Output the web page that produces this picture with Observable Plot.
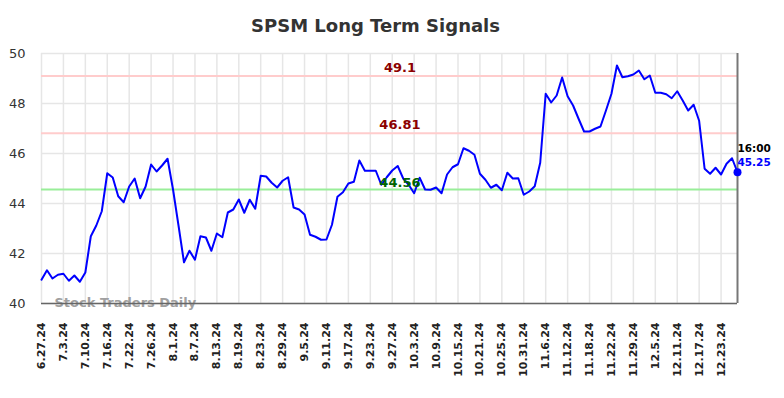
<!DOCTYPE html>
<html>
<head>
<meta charset="utf-8">
<script src="https://cdn.jsdelivr.net/npm/d3@7"></script>
<script src="https://cdn.jsdelivr.net/npm/@observablehq/plot@0.6"></script>
<style>
  html, body { margin: 0; padding: 0; background: #fff; }
  #chart svg { display: block; }
</style>
</head>
<body>
<div id="chart"></div>
<script>
const title = "SPSM Long Term Signals";
const watermark = "Stock Traders Daily";
const tickLabels = ["6.27.24","7.3.24","7.10.24","7.16.24","7.22.24","7.26.24","8.1.24","8.7.24",
  "8.13.24","8.19.24","8.23.24","8.29.24","9.5.24","9.11.24","9.17.24","9.23.24","9.27.24",
  "10.3.24","10.9.24","10.15.24","10.21.24","10.25.24","10.31.24","11.6.24","11.12.24",
  "11.18.24","11.22.24","11.29.24","12.5.24","12.11.24","12.17.24","12.23.24"];
const tickStep = 4;
const values = [
  40.95, 41.33, 41.00, 41.15, 41.19, 40.91, 41.12, 40.87, 41.24, 42.69,
  43.12, 43.69, 45.21, 45.04, 44.29, 44.05, 44.68, 45.00, 44.21, 44.68,
  45.56, 45.28, 45.52, 45.79, 44.56, 43.12, 41.65, 42.11, 41.75, 42.69,
  42.64, 42.11, 42.80, 42.65, 43.64, 43.76, 44.16, 43.63, 44.15, 43.79,
  45.11, 45.08, 44.83, 44.64, 44.91, 45.05, 43.84, 43.76, 43.56, 42.75,
  42.67, 42.55, 42.56, 43.15, 44.27, 44.45, 44.80, 44.87, 45.72, 45.31,
  45.31, 45.31, 44.75, 45.05, 45.32, 45.50, 45.00, 44.75, 44.41, 45.03,
  44.56, 44.55, 44.64, 44.41, 45.16, 45.45, 45.57, 46.21, 46.11, 45.95,
  45.19, 44.95, 44.63, 44.75, 44.53, 45.23, 45.00, 45.01, 44.35, 44.48,
  44.69, 45.63, 48.39, 48.04, 48.32, 49.04, 48.29, 47.92, 47.39, 46.88,
  46.88, 46.99, 47.08, 47.72, 48.39, 49.52, 49.05, 49.09, 49.16, 49.32,
  48.97, 49.12, 48.43, 48.43, 48.37, 48.21, 48.49, 48.12, 47.72, 47.95,
  47.31, 45.39, 45.19, 45.43, 45.16, 45.59, 45.81, 45.25
];
const resistanceLevels = [49.1, 46.81];
const supportLevels = [44.56];
const levelLabelIndex = 65.4;
const yTicks = [40, 42, 44, 46, 48, 50];
const lastTime = "16:00";

const points = values.map((v, i) => ({i, v}));
const last = points[points.length - 1];
const tickIdx = tickLabels.map((_, k) => k * tickStep);
const font = "DejaVu Sans";

const chart = Plot.plot({
  width: 784,
  height: 398,
  marginLeft: 41,
  marginRight: 47,
  marginTop: 53,
  marginBottom: 95,
  style: {fontFamily: font, background: "#fff", overflow: "visible"},
  x: {domain: [0, values.length - 1], axis: null},
  y: {domain: [40, 50], axis: null},
  marks: [
    Plot.ruleX(tickIdx, {stroke: "#e6e6e6", strokeWidth: 1.5}),
    Plot.ruleY(yTicks, {stroke: "#e6e6e6", strokeWidth: 1.5}),
    Plot.ruleY(resistanceLevels, {stroke: "#ffcccc", strokeWidth: 2}),
    Plot.ruleY(supportLevels, {stroke: "#99ee99", strokeWidth: 2}),
    Plot.text([watermark], {frameAnchor: "bottom-left", lineAnchor: "middle", dx: 13, dy: -1, fontSize: 13, fontWeight: "bold", fill: "#a0a0a0", textAnchor: "start"}),
    Plot.ruleY([40], {stroke: "#666", strokeWidth: 1.5}),
    Plot.ruleX([values.length - 1], {stroke: "#777", strokeWidth: 2}),
    Plot.line(points, {x: "i", y: "v", stroke: "#0000ff", strokeWidth: 2}),
    Plot.text(resistanceLevels, {x: () => levelLabelIndex, y: d => d, text: d => String(d), dy: -8, fontSize: 13, fontWeight: "bold", fill: "#8b0000"}),
    Plot.text(supportLevels, {x: () => levelLabelIndex, y: d => d, text: d => String(d), dy: -7, fontSize: 13, fontWeight: "bold", fill: "#006400"}),
    Plot.dot([last], {x: "i", y: "v", r: 4, fill: "#0000ff"}),
    Plot.text([last], {x: "i", y: "v", text: () => lastTime, textAnchor: "start", dy: -24, fontSize: 10.5, fontWeight: "bold", fill: "#000"}),
    Plot.text([last], {x: "i", y: "v", text: d => d.v.toFixed(2), textAnchor: "start", dy: -10, fontSize: 10.5, fontWeight: "bold", fill: "#0000ff"}),
    Plot.text(yTicks, {frameAnchor: "left", lineAnchor: "middle", y: d => d, text: d => String(d), textAnchor: "end", dx: -16, fontSize: 13, fill: "#333"}),
    Plot.text(tickIdx, {x: d => d, frameAnchor: "bottom", lineAnchor: "middle", text: (d, k) => tickLabels[k], rotate: -90, textAnchor: "end", dy: 19, fontSize: 11, fontWeight: "bold", fill: "#222"}),
    Plot.text([title], {frameAnchor: "top", lineAnchor: "middle", dx: -14, dy: -27, fontSize: 18, fontWeight: "bold", fill: "#333"})
  ]
});
document.getElementById("chart").appendChild(chart);
</script>
</body>
</html>
